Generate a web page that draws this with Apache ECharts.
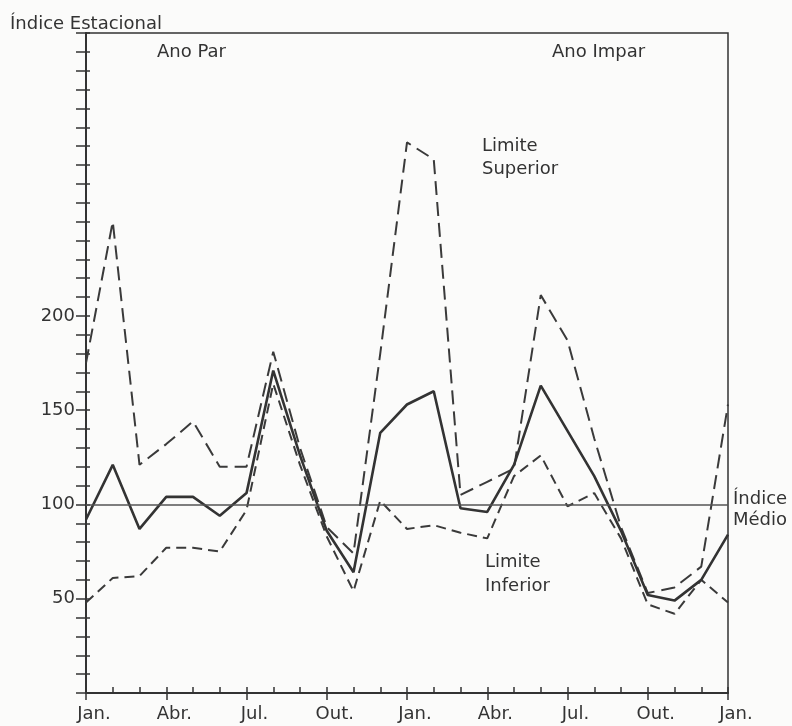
<!DOCTYPE html>
<html>
<head>
<meta charset="utf-8">
<script src="https://cdn.jsdelivr.net/npm/echarts@6/dist/echarts.min.js"></script>
<style>
html,body{margin:0;padding:0;background:#fbfbfa;}
#chart{width:792px;height:726px;}
</style>
</head>
<body>
<div id="chart"></div>
<script>
// ---- data (month index 0 = Jan of "Ano Par", 24 = Jan after "Ano Impar") ----
const months = [0,1,2,3,4,5,6,7,8,9,10,11,12,13,14,15,16,17,18,19,20,21,22,23,24];
const quarterLabels = ['Jan.','Abr.','Jul.','Out.','Jan.','Abr.','Jul.','Out.','Jan.'];
const yTickLabels = [50,100,150,200];
const indiceEstacional = [92,121,87,104,104,94,106,171,126,86,64,138,153,160,98,96,121,163,139,115,86,52,49,60,84];
const limiteSuperior   = [175,250,121,132,144,120,120,181,130,88,74,180,292,283,105,112,119,211,187,135,88,53,56,67,153];
const limiteInferior   = [48,61,62,77,77,75,97,164,121,83,54,102,87,89,85,82,115,126,99,106,82,47,42,60,48];
const indiceMedio = 100;
const yearLabels = ['Ano Par','Ano Impar'];
const seriesLabels = ['Limite\nSuperior','Limite\nInferior','Índice\nMédio'];
const axisTitle = 'Índice Estacional';

const FONT = 'DejaVu Sans';
const INK = '#333';
const pairs = arr => months.map((m,i)=>[m, arr[i]]);

const chart = echarts.init(document.getElementById('chart'), null, {renderer:'canvas'});
const option = {
  animation:false,
  backgroundColor:'#fbfbfa',
  textStyle:{fontFamily:FONT,color:INK},
  grid:{left:86,right:64,top:33,bottom:33,show:true,borderColor:INK,borderWidth:1.5,backgroundColor:'transparent',outerBoundsMode:'none'},
  xAxis:[
    {type:'value',min:0,max:24,interval:3,position:'bottom',
     axisLine:{show:true,onZero:false,lineStyle:{color:INK,width:2}},
     axisTick:{show:true,inside:false,length:7,lineStyle:{color:INK,width:1.5}},
     splitLine:{show:false},
     axisLabel:{show:true,margin:12,fontFamily:FONT,fontSize:18,color:INK,padding:[0,0,0,16],
       formatter:v=>quarterLabels[Math.round(v/3)]||''}},
    {type:'value',min:0,max:24,interval:1,position:'bottom',
     axisLine:{show:false,onZero:false},
     axisTick:{show:true,inside:true,length:6,lineStyle:{color:INK,width:1.5}},
     splitLine:{show:false},axisLabel:{show:false}}
  ],
  yAxis:[
    {type:'value',min:0,max:350,interval:10,position:'left',
     name:axisTitle,nameLocation:'end',nameGap:0,
     nameTextStyle:{fontFamily:FONT,fontSize:18,color:INK,align:'center',verticalAlign:'bottom'},
     axisLine:{show:true,onZero:false,lineStyle:{color:INK,width:2}},
     axisTick:{show:true,inside:false,length:10,lineStyle:{color:INK,width:1.5}},
     splitLine:{show:false},
     axisLabel:{show:true,margin:11,fontFamily:FONT,fontSize:18,color:INK,
       formatter:v=>yTickLabels.indexOf(v)>=0?String(v):''}},
    {type:'value',min:0,max:350,interval:10,position:'left',
     axisLine:{show:false,onZero:false},
     axisTick:{show:true,inside:true,length:4,lineStyle:{color:INK,width:1.5}},
     splitLine:{show:false},axisLabel:{show:false}}
  ],
  series:[
    {type:'line',name:'Limite Superior',data:pairs(limiteSuperior),showSymbol:false,symbol:'none',
     lineStyle:{color:'#3a3a3a',width:2,type:[14,7]},z:3},
    {type:'line',name:'Limite Inferior',data:pairs(limiteInferior),showSymbol:false,symbol:'none',
     lineStyle:{color:'#3a3a3a',width:2,type:[10,6]},z:3},
    {type:'line',name:'Índice Estacional',data:pairs(indiceEstacional),showSymbol:false,symbol:'none',
     lineStyle:{color:'#333',width:2.6},z:4,
     markLine:{silent:true,symbol:'none',animation:false,
       lineStyle:{color:'#555',width:1.5,type:'solid'},
       label:{show:true,position:'end',distance:5,formatter:seriesLabels[2],
         fontFamily:FONT,fontSize:18,lineHeight:21,color:INK,offset:[0,5]},
       data:[{yAxis:indiceMedio}]}}
  ],
  graphic:[
    {type:'text',left:157,top:41,style:{text:yearLabels[0],font:'18px "DejaVu Sans"',fill:INK,lineHeight:22}},
    {type:'text',left:552,top:41,style:{text:yearLabels[1],font:'18px "DejaVu Sans"',fill:INK,lineHeight:22}},
    {type:'text',left:482,top:135,style:{text:seriesLabels[0],font:'18px "DejaVu Sans"',fill:INK,lineHeight:23}},
    {type:'text',left:485,top:550,style:{text:seriesLabels[1],font:'18px "DejaVu Sans"',fill:INK,lineHeight:24}}
  ]
};
chart.setOption(option);
</script>
</body>
</html>
